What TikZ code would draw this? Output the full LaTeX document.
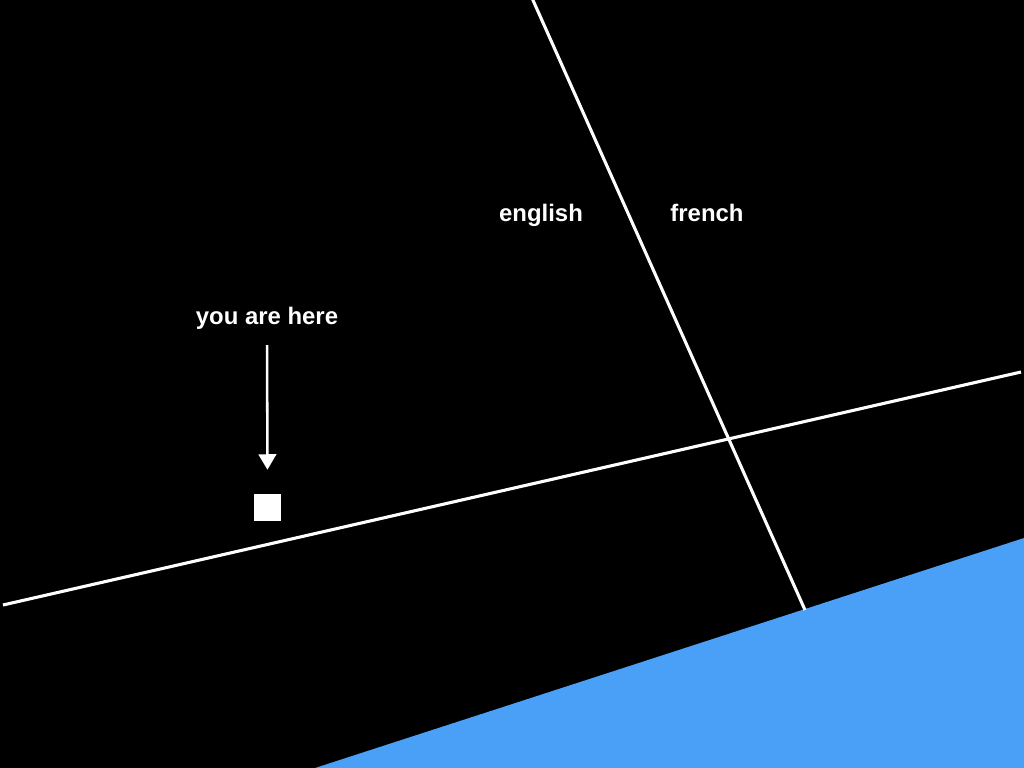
\documentclass[tikz,border=0pt]{standalone}
\usepackage{fontspec}
\setmainfont{Liberation Sans}
\usetikzlibrary{arrows.meta,positioning,calc}
\definecolor{Sky}{HTML}{4A9FF6}
\tikzset{
  axisline/.style={white,line width=2.2pt},
  langlabel/.style={text=white,font=\fontsize{17}{20}\selectfont\bfseries,
    inner sep=0pt,text depth=0pt,anchor=base}
}
\begin{document}
\begin{tikzpicture}[x=0.025cm,y=-0.025cm]
  \fill[black] (0,0) rectangle (1024,768);
  \useasboundingbox (0,0) rectangle (1024,768);
  % blue region at the bottom
  \fill[Sky] (315,768) -- (1024,538) -- (1024,768) -- cycle;
  % the two lines
  \draw[axisline] (532,-2) -- (805,610);
  \draw[axisline] (3,605) -- (1021,372);
  % labels
  \node[langlabel] (english) at (541,221.5) {english};
  \node[langlabel] (french) at (707,221.5) {french};
  \node[langlabel] (here) at (267,324) {you are here};
  \node[fill=white,minimum size=0.67cm,inner sep=0pt] (spot) at (267.5,507.3) {};
  \draw[white,line width=1.8pt,-{Triangle[width=12.5pt,length=11pt]},
    shorten <=14.9pt,shorten >=17pt] (here.south) -- (spot.north);
\end{tikzpicture}
\end{document}
